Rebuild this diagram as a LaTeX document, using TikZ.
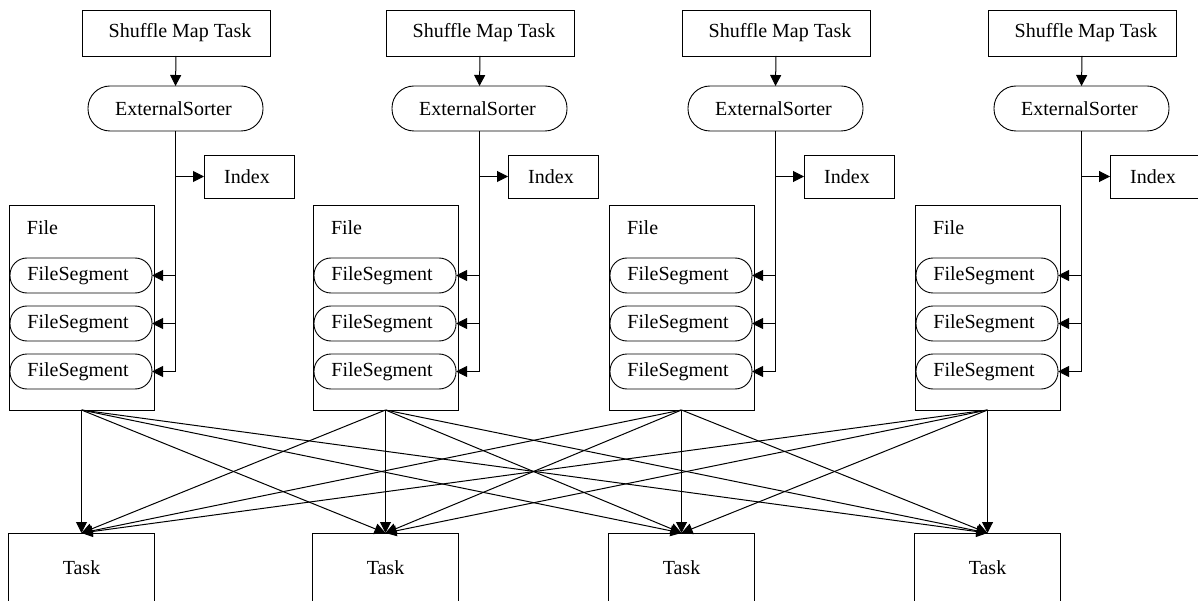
\documentclass[tikz,border=0pt]{standalone}
\usepackage{fontspec}
\setmainfont{Liberation Serif}
\usetikzlibrary{arrows.meta}
\begin{document}
\begin{tikzpicture}[x=1pt,y=-1pt,
  every node/.style={font=\fontsize{20}{24}\selectfont, inner sep=0pt, outer sep=0pt},
  box/.style={draw, line width=0.9pt, rectangle},
  pill/.style={draw, line width=0.9pt, rectangle, rounded corners=#1},
  conn/.style={line width=1pt},
  arr/.style={line width=1pt, -{Triangle[length=11pt,width=11pt]}}]
\useasboundingbox (0,0) rectangle (1198,601);
\fill[white] (0,0) rectangle (1198,601);
\foreach \i/\dx in {1/0,2/304,3/600,4/906} {
  \node[box, minimum width=188pt, minimum height=46pt] (smt\i) at (176+\dx,33) {\hspace*{8pt}Shuffle Map Task};
  \node[pill=22pt, minimum width=175pt, minimum height=45pt] (es\i) at (175.5+\dx,108.5) {ExternalSorter\hspace*{4pt}};
  \node[box, minimum width=90pt, minimum height=43pt] (idx\i) at (249+\dx,176.5) {Index\hspace*{4pt}};
  \node[box, minimum width=145pt, minimum height=205pt] (file\i) at (81.5+\dx,307.5) {};
  \node[anchor=west] (ft\i) at (27+\dx,228) {File};
  \node[pill=17pt, minimum width=142pt, minimum height=35pt] (fsa\i) at (81+\dx,275.5) {FileSegment\hspace*{6pt}};
  \node[pill=17pt, minimum width=142pt, minimum height=35pt] (fsb\i) at (81+\dx,323.5) {FileSegment\hspace*{6pt}};
  \node[pill=17pt, minimum width=142pt, minimum height=35pt] (fsc\i) at (81+\dx,371.5) {FileSegment\hspace*{6pt}};
  \node[box, anchor=north, minimum width=146pt, minimum height=70pt] (task\i) at (81.5+\dx,533) {Task};
  \draw[arr] (smt\i.south) -- (es\i.north);
  \draw[conn] (es\i.south) -- (es\i.south |- fsc\i.east);
  \draw[arr] (es\i.south |- idx\i.west) -- (idx\i.west);
  \draw[arr] (es\i.south |- fsa\i.east) -- (fsa\i.east);
  \draw[arr] (es\i.south |- fsb\i.east) -- (fsb\i.east);
  \draw[arr] (es\i.south |- fsc\i.east) -- (fsc\i.east);
}
\foreach \i in {1,...,4} {
  \foreach \j in {1,...,4} {
    \draw[arr] (file\i.south) -- (task\j.north);
  }
}
\end{tikzpicture}
\end{document}
